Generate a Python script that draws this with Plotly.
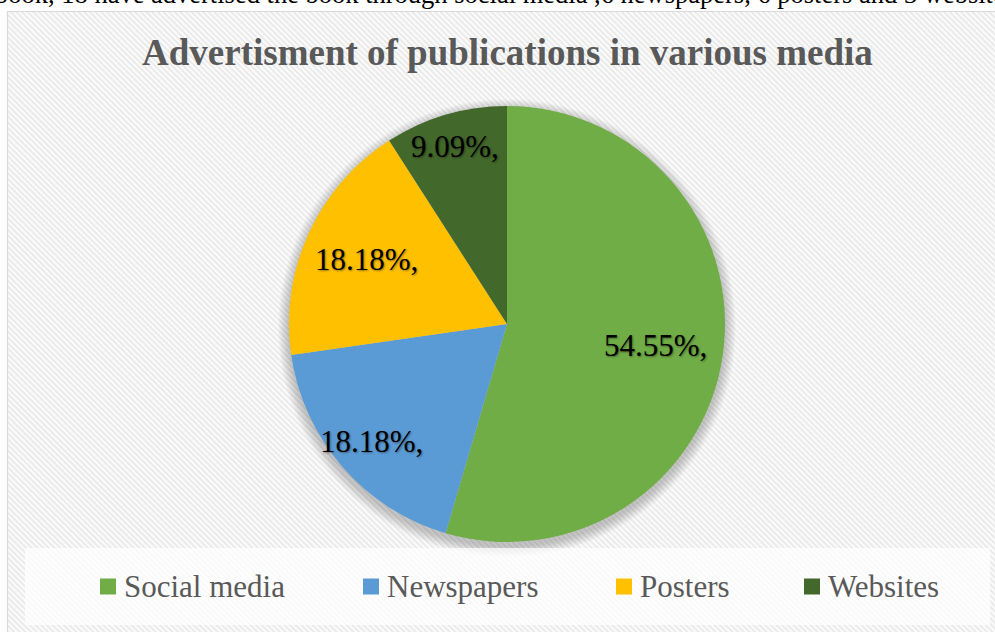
import base64
import math
import plotly.graph_objects as go

# Survey result: how the published books were advertised
categories = ["Social media", "Newspapers", "Posters", "Websites"]
counts = [18, 6, 6, 3]
colors = ["#70AD47", "#5B9BD5", "#FFC000", "#43682B"]

caption = ("book, 18 have advertised the book through social media ,6 newspapers, "
           "6 posters and 3 websites")
title_text = "Advertisment of publications in various media"

W, H = 995, 632
SERIF = "Liberation Serif, Times New Roman, serif"
GREY = "#595959"


def fx(px):
    return px / W


def fy(py):
    return 1 - py / H


# pie geometry (pixels)
CX, CY, R = 507, 324, 218
# how far out each percentage label sits, as a fraction of the radius
LABEL_RADIUS = [0.69, 0.82, 0.71, 0.85]
# legend layout (pixels): square left edges and row centre
LEGEND_X = [100, 363, 616, 804]
LEGEND_Y = 586.5

# diagonal hatch used as the chart-area fill
hatch_svg = f"""<svg xmlns='http://www.w3.org/2000/svg' width='{W}' height='{H}'>
<defs><pattern id='h' width='4' height='4' patternUnits='userSpaceOnUse' patternTransform='rotate(45)'>
<rect width='4' height='4' fill='#FBFBFB'/><rect width='4' height='1.8' fill='#E9E9E9'/></pattern></defs>
<rect x='8' y='12' width='{W}' height='{H}' fill='url(#h)'/></svg>"""
hatch_uri = "data:image/svg+xml;base64," + base64.b64encode(hatch_svg.encode()).decode()

fig = go.Figure()

fig.add_trace(go.Pie(
    labels=categories,
    values=counts,
    marker=dict(colors=colors, line=dict(width=0)),
    sort=False,
    direction="clockwise",
    rotation=0,
    textinfo="none",
    hoverinfo="label+value+percent",
    showlegend=False,
    domain=dict(x=[fx(CX - R), fx(CX + R)], y=[fy(CY + R), fy(CY - R)]),
))

shapes = []
# outer frame of the chart area
shapes.append(dict(type="rect", xref="paper", yref="paper",
                   x0=fx(7.5), x1=fx(W + 5), y0=fy(H + 5), y1=fy(11.5),
                   line=dict(color="#D9D9D9", width=1.2), fillcolor="rgba(0,0,0,0)",
                   layer="below"))
# soft drop shadow behind the pie
for k in range(1, 12):
    r = R + k
    shapes.append(dict(type="circle", xref="paper", yref="paper",
                       x0=fx(CX - r), x1=fx(CX + r), y0=fy(CY + 4 + r), y1=fy(CY + 4 - r),
                       line=dict(width=0), fillcolor="rgba(0,0,0,0.018)", layer="below"))
# legend band
shapes.append(dict(type="rect", xref="paper", yref="paper",
                   x0=fx(25), x1=fx(990), y0=fy(625), y1=fy(548),
                   line=dict(width=0), fillcolor="rgba(255,255,255,0.72)", layer="below"))

annotations = []
# caption line running above the chart
annotations.append(dict(text=caption, xref="paper", yref="paper", x=fx(-7), y=fy(11),
                        xanchor="left", yanchor="bottom", showarrow=False,
                        font=dict(family=SERIF, size=26.5, color="#000000")))
# title
annotations.append(dict(text=f"<b>{title_text}</b>", xref="paper", yref="paper",
                        x=fx(508), y=fy(52), xanchor="center", yanchor="middle",
                        showarrow=False,
                        font=dict(family=SERIF, size=37, color=GREY)))

# percentage labels placed along each slice's bisector
total = sum(counts)
cum = 0
for v, frac in zip(counts, LABEL_RADIUS):
    mid = (cum + v / 2) / total * 2 * math.pi
    cum += v
    lx = CX + frac * R * math.sin(mid)
    ly = CY - frac * R * math.cos(mid)
    annotations.append(dict(text=f"{v / total * 100:.2f}%,", xref="paper", yref="paper",
                            x=fx(lx), y=fy(ly), xanchor="center", yanchor="middle",
                            showarrow=False,
                            font=dict(family=SERIF, size=31, color="#000000",
                                      shadow="1px 1px 2px rgba(0,0,0,0.4)")))

# legend entries
for name, col, x0 in zip(categories, colors, LEGEND_X):
    shapes.append(dict(type="rect", xref="paper", yref="paper",
                       x0=fx(x0), x1=fx(x0 + 16), y0=fy(LEGEND_Y + 8), y1=fy(LEGEND_Y - 8),
                       line=dict(width=0), fillcolor=col))
    annotations.append(dict(text=name, xref="paper", yref="paper",
                            x=fx(x0 + 22), y=fy(LEGEND_Y), xanchor="left", yanchor="middle",
                            showarrow=False,
                            font=dict(family=SERIF, size=31, color=GREY)))

fig.update_layout(
    width=W, height=H,
    margin=dict(l=0, r=0, t=0, b=0),
    paper_bgcolor="#FFFFFF",
    plot_bgcolor="#FFFFFF",
    showlegend=False,
    shapes=shapes,
    annotations=annotations,
    images=[dict(source=hatch_uri, xref="paper", yref="paper", x=0, y=1,
                 sizex=1, sizey=1, xanchor="left", yanchor="top",
                 sizing="stretch", layer="below")],
)

fig.write_html("out.html")
